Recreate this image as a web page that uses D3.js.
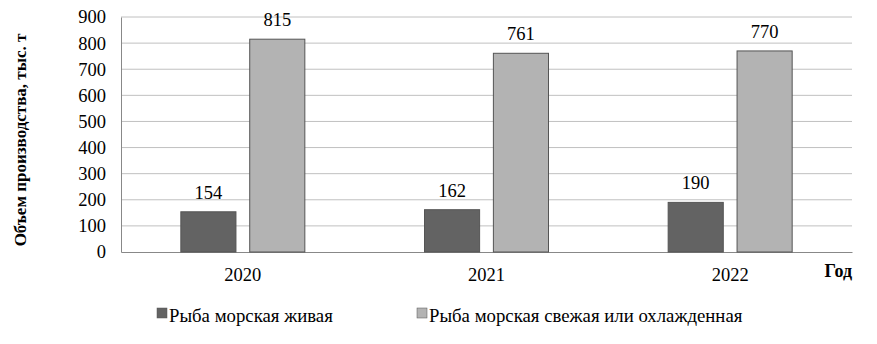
<!DOCTYPE html>
<html>
<head>
<meta charset="utf-8">
<script src="https://cdn.jsdelivr.net/npm/d3@7"></script>
<style>
  body { margin: 0; background: #fff; }
</style>
</head>
<body>
<div id="container"></div>
<script>
const years = ["2020", "2021", "2022"];
const seriesNames = ["Рыба морская живая", "Рыба морская свежая или охлажденная"];
const liveFish = [154, 162, 190];
const freshFish = [815, 761, 770];
const yTicks = [0, 100, 200, 300, 400, 500, 600, 700, 800, 900];

const w = 877, h = 344;
const margin = {top: 17, right: 25, bottom: 92, left: 121};
const colors = ["#636363", "#b3b3b3"];
const FONT = "Liberation Serif";

const svg = d3.select("#container")
    .append("svg")
    .attr("width", w)
    .attr("height", h)
    .attr("font-family", FONT);

const xScale = d3.scaleBand()
    .domain(years)
    .range([margin.left, w - margin.right]);

const yScale = d3.scaleLinear()
    .domain([0, 900])
    .range([h - margin.bottom, margin.top]);

const inner = d3.scaleBand()
    .domain([0, 1])
    .range([0, 124])
    .paddingInner(0.2);

// grid
svg.selectAll(".grid")
    .data(yTicks.slice(1))
    .enter()
    .append("line")
    .attr("x1", margin.left)
    .attr("x2", w - margin.right)
    .attr("y1", (d) => yScale(d))
    .attr("y2", (d) => yScale(d))
    .attr("stroke", "#c0c0c0")
    .attr("stroke-width", 1);

const yAxis = svg.append("g")
    .attr("transform", "translate(" + margin.left + ",0)")
    .call(d3.axisLeft(yScale).tickValues(yTicks).tickSize(0).tickPadding(15));
yAxis.attr("font-family", FONT);
yAxis.select(".domain").attr("stroke", "#888");
yAxis.selectAll("text").attr("font-size", 18.5).attr("fill", "#000");

const xAxis = svg.append("g")
    .attr("transform", "translate(0," + yScale(0) + ")")
    .call(d3.axisBottom(xScale).tickSize(0).tickPadding(16));
xAxis.attr("font-family", FONT);
xAxis.select(".domain").attr("stroke", "#888");
xAxis.selectAll("text").attr("font-size", 18.5).attr("fill", "#000");

const series = [liveFish, freshFish];
series.forEach((vals, s) => {
    const g = svg.append("g");
    g.selectAll("rect")
        .data(vals)
        .enter()
        .append("rect")
        .attr("x", (d, i) => xScale(years[i]) + xScale.bandwidth() / 2 - 62 + inner(s))
        .attr("y", (d) => yScale(d))
        .attr("width", inner.bandwidth())
        .attr("height", (d) => yScale(0) - yScale(d))
        .attr("fill", colors[s])
        .attr("stroke", "#555")
        .attr("stroke-width", 1);
    g.selectAll("text")
        .data(vals)
        .enter()
        .append("text")
        .attr("x", (d, i) => xScale(years[i]) + xScale.bandwidth() / 2 - 62 + inner(s) + inner.bandwidth() / 2)
        .attr("y", (d) => yScale(d) - 13)
        .attr("text-anchor", "middle")
        .attr("font-size", 18.5)
        .text((d) => d);
});

svg.append("text")
    .attr("transform", "translate(26," + 140 + ") rotate(-90)")
    .attr("text-anchor", "middle")
    .attr("font-size", 17)
    .attr("font-weight", "bold")
    .text("Объем производства, тыс. т");

svg.append("text")
    .attr("x", 852)
    .attr("y", 277)
    .attr("text-anchor", "end")
    .attr("font-size", 18)
    .attr("font-weight", "bold")
    .text("Год");

const legendX = [157, 417];
const legend = svg.append("g").attr("id", "legend");
seriesNames.forEach((name, i) => {
    legend.append("rect")
        .attr("x", legendX[i])
        .attr("y", 308)
        .attr("width", 10)
        .attr("height", 10)
        .attr("fill", colors[i])
        .attr("stroke", "#555")
        .attr("stroke-width", 0.5);
    legend.append("text")
        .attr("x", legendX[i] + 12)
        .attr("y", 322)
        .attr("font-size", 18.8)
        .text(name);
});
</script>
</body>
</html>
